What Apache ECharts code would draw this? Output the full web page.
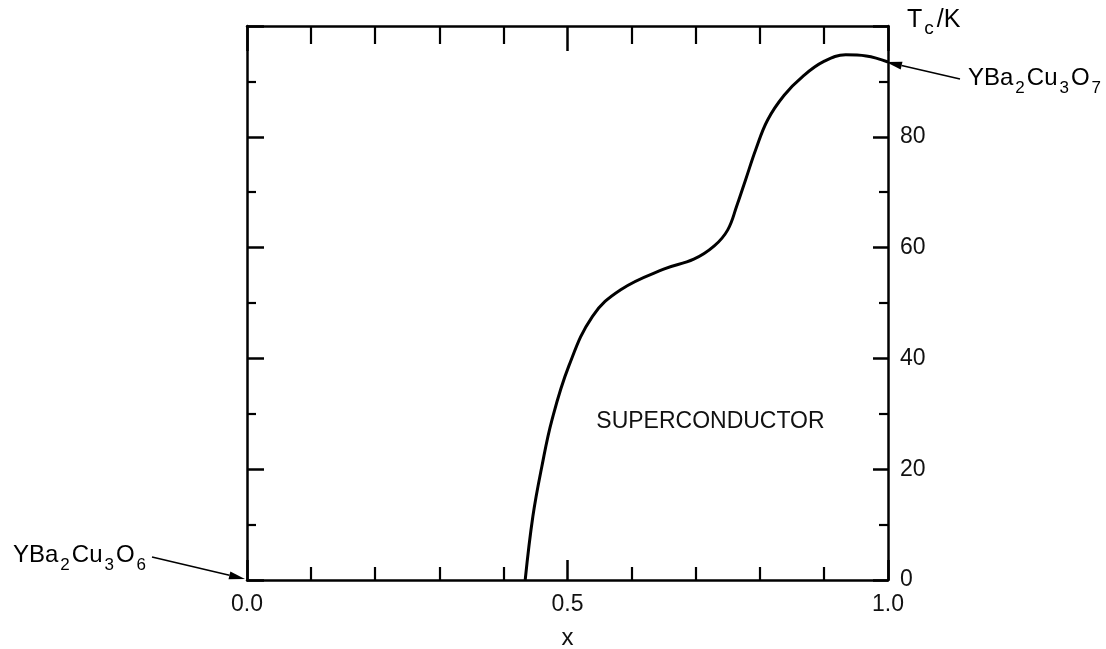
<!DOCTYPE html>
<html>
<head>
<meta charset="utf-8">
<script src="https://cdn.jsdelivr.net/npm/echarts@6/dist/echarts.min.js"></script>
<style>
html,body{margin:0;padding:0;background:#fff;}
#c{width:1106px;height:649px;}
</style>
</head>
<body>
<div id="c"></div>
<script>
// Oxygen content x (in YBa2Cu3O6+x) and critical temperature Tc (K)
const xValues  = [0.434, 0.446, 0.460, 0.476, 0.502, 0.539, 0.583, 0.650, 0.697, 0.729, 0.750, 0.764, 0.778, 0.794, 0.812, 0.838, 0.868, 0.900, 0.934, 0.966, 1.000];
const tcValues = [0.0,   11.5,  20.5,  29.0,  38.6,  47.6,  52.4,  56.1,  57.9,  60.3,  63.2,  67.5,  72.3,  77.8,  83.0,  87.5,  91.0,  93.6,  94.8,  94.6,  93.5];
const xTickLabels = ['0.0', '0.5', '1.0'];
const yTickLabels = ['0', '20', '40', '60', '80'];
const regionLabel = 'SUPERCONDUCTOR';
const regionLabelAt = [0.723, 28.6];
const endLabelO7 = { text: '{a|YBa}{s|2}{a|Cu}{s|3}{a|O}{s|7}', at: [1.0, 93.5] };
const endLabelO6 = { text: '{a|YBa}{s|2}{a|Cu}{s|3}{a|O}{s|6}', at: [0.0, 0.0] };
const yName = '{a|T}{c|c}{a|/K}';

const FONT = 'Liberation Sans';
const INK = '#111';
const chart = echarts.init(document.getElementById('c'));

const richBase = {
  a: { fontFamily: FONT, fontSize: 24, lineHeight: 28, color: INK, verticalAlign: 'top', padding: [0, 1, 0, 0] },
  s: { fontFamily: FONT, fontSize: 17, lineHeight: 17, color: INK, padding: [14, 2, 0, 1], verticalAlign: 'top' },
  c: { fontFamily: FONT, fontSize: 19, lineHeight: 19, color: INK, padding: [11, 3, 0, 1], verticalAlign: 'top' }
};

const axisLineStyle = { color: '#000', width: 2.5 };

chart.setOption({
  animation: false,
  backgroundColor: '#fff',
  grid: { left: 247, right: 218, top: 26, bottom: 69, containLabel: false, outerBoundsMode: 'none' },
  xAxis: [
    {
      type: 'value', min: 0, max: 1, interval: 0.5, position: 'bottom',
      axisLine: { onZero: false, lineStyle: axisLineStyle },
      axisTick: { inside: true, length: 20, lineStyle: { color: '#000', width: 2.5 } },
      minorTick: { show: true, splitNumber: 5, length: 13, lineStyle: { color: '#000', width: 2.2 } },
      splitLine: { show: false }, minorSplitLine: { show: false },
      axisLabel: {
        fontFamily: FONT, fontSize: 23, color: INK, margin: 13,
        formatter: v => xTickLabels[Math.round(v * 2)] || ''
      },
      name: 'x', nameLocation: 'middle', nameGap: 46,
      nameTextStyle: { fontFamily: FONT, fontSize: 24, color: INK }
    },
    {
      type: 'value', min: 0, max: 1, interval: 0.5, position: 'top',
      axisLine: { onZero: false, lineStyle: axisLineStyle },
      axisTick: { inside: true, length: 25, lineStyle: { color: '#000', width: 2.5 } },
      minorTick: { show: true, splitNumber: 5, length: 18, lineStyle: { color: '#000', width: 2.2 } },
      splitLine: { show: false },
      axisLabel: { show: false }
    }
  ],
  yAxis: [
    {
      type: 'value', min: 0, max: 100, interval: 20, position: 'left',
      axisLine: { show: true, onZero: false, lineStyle: axisLineStyle },
      axisTick: { show: true, inside: true, length: 17, lineStyle: { color: '#000', width: 2.5 } },
      minorTick: { show: true, splitNumber: 2, length: 9, lineStyle: { color: '#000', width: 2.2 } },
      splitLine: { show: false },
      axisLabel: { show: false }
    },
    {
      type: 'value', min: 0, max: 100, interval: 20, position: 'right',
      axisLine: { show: true, onZero: false, lineStyle: axisLineStyle },
      axisTick: { show: true, inside: true, length: 15, lineStyle: { color: '#000', width: 2.5 } },
      minorTick: { show: true, splitNumber: 2, length: 9, lineStyle: { color: '#000', width: 2.2 } },
      splitLine: { show: false },
      axisLabel: {
        fontFamily: FONT, fontSize: 23, color: INK, margin: 12,
        formatter: v => yTickLabels[Math.round(v / 20)] || ''
      }
    }
  ],
  series: [{
    type: 'line',
    xAxisIndex: 0, yAxisIndex: 0,
    data: xValues.map((x, i) => [x, tcValues[i]]),
    smooth: 0.4,
    symbol: 'none',
    lineStyle: { color: '#000', width: 3 },
    clip: false
  }]
});

function px(p) { return chart.convertToPixel({ xAxisIndex: 0, yAxisIndex: 0 }, p); }

function arrow(from, tip) {
  const dx = tip[0] - from[0], dy = tip[1] - from[1];
  const L = Math.hypot(dx, dy), ux = dx / L, uy = dy / L;
  const hl = 16, hw = 4;
  const base = [tip[0] - ux * hl, tip[1] - uy * hl];
  return [
    { type: 'line', shape: { x1: from[0], y1: from[1], x2: base[0], y2: base[1] }, style: { stroke: '#000', lineWidth: 1.6 } },
    { type: 'polygon', shape: { points: [tip, [base[0] - uy * hw, base[1] + ux * hw], [base[0] + uy * hw, base[1] - ux * hw]] }, style: { fill: '#000' } }
  ];
}

const tip7 = px(endLabelO7.at);
const tip6 = px(endLabelO6.at);
const reg = px(regionLabelAt);
const topRight = px([1.0, 100]);

const graphics = [];
graphics.push(...arrow([tip7[0] + 72, tip7[1] + 17], [tip7[0] - 2, tip7[1]]));
graphics.push(...arrow([tip6[0] - 95, tip6[1] - 23], [tip6[0] - 2, tip6[1] - 1]));
graphics.push({
  type: 'text', x: tip7[0] + 80, y: tip7[1] + 4,
  style: { text: endLabelO7.text, rich: richBase, verticalAlign: 'top', align: 'left' }
});
graphics.push({
  type: 'text', x: 13, y: tip6[1] - 37,
  style: { text: endLabelO6.text, rich: richBase, verticalAlign: 'top', align: 'left' }
});
graphics.push({
  type: 'text', x: reg[0], y: reg[1],
  style: { text: regionLabel, fontFamily: FONT, fontSize: 23, fill: INK, align: 'center', verticalAlign: 'middle' }
});
graphics.push({
  type: 'text', x: topRight[0] + 19, y: topRight[1] - 18,
  style: { text: yName, rich: { a: Object.assign({}, richBase.a, { fontSize: 25 }), c: richBase.c }, verticalAlign: 'top', align: 'left' }
});
chart.setOption({ graphic: graphics });
</script>
</body>
</html>
